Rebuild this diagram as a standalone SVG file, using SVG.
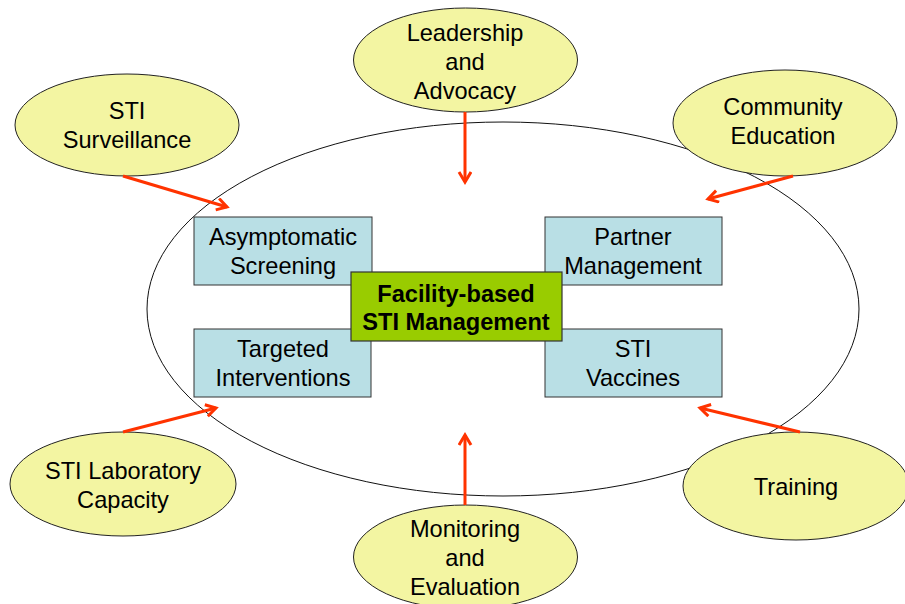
<svg xmlns="http://www.w3.org/2000/svg" width="905" height="604" viewBox="0 0 905 604">
<defs>
<style>
.oval{fill:#F3F5A2;stroke:#222;stroke-width:1}
.box{fill:#B9DFE5;stroke:#333;stroke-width:1}
.core{fill:#99CC00;stroke:#333;stroke-width:1.2}
text{font-family:"Liberation Sans",Arial,sans-serif;font-size:23.6px;fill:#000;text-anchor:middle}
.b{font-weight:bold}
.arr{stroke:#FF3300;stroke-width:3;fill:none;marker-end:url(#ah)}
</style>
<marker id="ah" markerUnits="userSpaceOnUse" markerWidth="16" markerHeight="16" refX="11" refY="7" orient="auto">
<path d="M1,1 L11,7 L1,13" fill="none" stroke="#FF3300" stroke-width="3"/>
</marker>
</defs>
<rect width="905" height="604" fill="#fff"/>
<ellipse id="frame" cx="503" cy="309" rx="356" ry="187" fill="none" stroke="#111" stroke-width="1"/>
<g id="leadership"><ellipse class="oval" cx="465.5" cy="60" rx="112" ry="52"/><text x="465" y="41">Leadership</text><text x="465" y="70">and</text><text x="465" y="99">Advocacy</text></g>
<g id="surveillance"><ellipse class="oval" cx="127" cy="125" rx="112" ry="51"/><text x="127" y="119">STI</text><text x="127" y="148">Surveillance</text></g>
<g id="community"><ellipse class="oval" cx="785" cy="123" rx="112" ry="53"/><text x="783" y="115">Community</text><text x="783" y="144">Education</text></g>
<g id="laboratory"><ellipse class="oval" cx="123" cy="484" rx="113" ry="52"/><text x="123" y="479">STI Laboratory</text><text x="123" y="508">Capacity</text></g>
<g id="training"><ellipse class="oval" cx="796" cy="486" rx="113" ry="54"/><text x="796" y="495">Training</text></g>
<g id="monitoring"><ellipse class="oval" cx="465.5" cy="557" rx="112" ry="52"/><text x="465" y="537">Monitoring</text><text x="465" y="566">and</text><text x="465" y="595">Evaluation</text></g>
<g id="screening"><rect class="box" x="194" y="217" width="178" height="68"/><text x="283" y="245">Asymptomatic</text><text x="283" y="274">Screening</text></g>
<g id="partner"><rect class="box" x="545" y="217" width="177" height="68"/><text x="633" y="245">Partner</text><text x="633" y="274">Management</text></g>
<g id="targeted"><rect class="box" x="194" y="329" width="177" height="68"/><text x="283" y="357">Targeted</text><text x="283" y="386">Interventions</text></g>
<g id="vaccines"><rect class="box" x="545" y="329" width="177" height="68"/><text x="633" y="357">STI</text><text x="633" y="386">Vaccines</text></g>
<g id="facility"><rect class="core" x="351" y="272" width="211" height="69"/><text class="b" x="456" y="302">Facility-based</text><text class="b" x="456" y="330">STI Management</text></g>
<g id="connectors">
<line class="arr" x1="123" y1="176" x2="227" y2="207"/>
<line class="arr" x1="465" y1="112" x2="465" y2="182"/>
<line class="arr" x1="793" y1="176" x2="708" y2="199"/>
<line class="arr" x1="800" y1="432" x2="700" y2="408"/>
<line class="arr" x1="123" y1="432" x2="216" y2="408"/>
<line class="arr" x1="465" y1="505" x2="465" y2="435"/>
</g>
</svg>
